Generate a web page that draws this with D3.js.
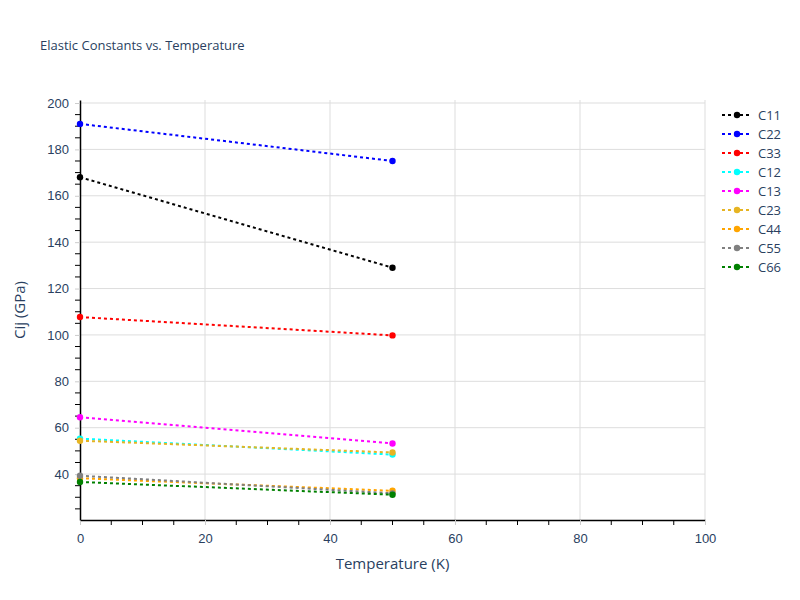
<!DOCTYPE html>
<html>
<head>
<meta charset="utf-8">
<script src="https://cdn.jsdelivr.net/npm/d3@7"></script>
<style>
body { margin: 0; background: #fff; }
svg { font-family: "Open Sans", verdana, arial, sans-serif; }
</style>
</head>
<body>
<svg id="chart" width="800" height="600"></svg>
<script>
const temperatures = [0, 50];
const seriesNames = ["C11", "C22", "C33", "C12", "C13", "C23", "C44", "C55", "C66"];
const seriesColors = ["#000000", "#0000ff", "#ff0000", "#00ffff", "#ff00ff", "#e6b422", "#ffa500", "#808080", "#008000"];
const C11 = [168, 129];
const C22 = [191, 175];
const C33 = [107.7, 99.8];
const C12 = [55.3, 48.4];
const C13 = [64.5, 53.2];
const C23 = [54.4, 49.3];
const C44 = [38.2, 32.8];
const C55 = [39.3, 31.7];
const C66 = [36.6, 31.1];
const seriesValues = [C11, C22, C33, C12, C13, C23, C44, C55, C66];
const xTicks = [0, 20, 40, 60, 80, 100];
const yTicks = [40, 60, 80, 100, 120, 140, 160, 180, 200];

(function () {
const svg = d3.select("#chart");
const mLeft = 80, mRight = 705, mTop = 100, mBottom = 520;
const x = d3.scaleLinear().domain([0, 100]).range([mLeft, mRight]);
const y = d3.scaleLinear().domain([20.2, 201.3]).range([mBottom, mTop]);
const textColor = "#2a3f5f";
const gridColor = "#dddddd";

// gridlines
svg.append("g").selectAll("line").data(xTicks.filter(d => d > 0)).join("line")
  .attr("x1", d => x(d)).attr("x2", d => x(d)).attr("y1", mTop).attr("y2", mBottom)
  .attr("stroke", gridColor).attr("stroke-width", 1);
svg.append("g").selectAll("line").data(yTicks).join("line")
  .attr("x1", mLeft).attr("x2", mRight).attr("y1", d => y(d)).attr("y2", d => y(d))
  .attr("stroke", gridColor).attr("stroke-width", 1);

// minor ticks
const xMinor = d3.range(5, 101, 5).filter(d => d % 20 !== 0);
const yMinor = d3.range(25, 201, 5).filter(d => d % 20 !== 0);
svg.append("g").selectAll("line").data(xMinor).join("line")
  .attr("x1", d => x(d)).attr("x2", d => x(d)).attr("y1", mBottom).attr("y2", mBottom + 5)
  .attr("stroke", "#000").attr("stroke-width", 1);
svg.append("g").selectAll("line").data(yMinor).join("line")
  .attr("x1", mLeft - 5).attr("x2", mLeft).attr("y1", d => y(d)).attr("y2", d => y(d))
  .attr("stroke", "#000").attr("stroke-width", 1);

// axes
const xAxis = d3.axisBottom(x).tickValues(xTicks).tickSize(5).tickSizeOuter(0).tickPadding(9);
const gx = svg.append("g").attr("transform", `translate(0,${mBottom})`).call(xAxis);
gx.select(".domain").attr("stroke", "#000").attr("stroke-width", 1.5);
gx.selectAll(".tick line").attr("stroke", "#cccccc");
gx.selectAll(".tick text").attr("fill", textColor).style("font-size", "13px");

const yAxis = d3.axisLeft(y).tickValues(yTicks).tickSize(5).tickSizeOuter(0).tickPadding(6);
const gy = svg.append("g").attr("transform", `translate(${mLeft},0)`).call(yAxis);
gy.select(".domain").attr("stroke", "#000").attr("stroke-width", 1.5);
gy.selectAll(".tick line").attr("stroke", "#cccccc");
gy.selectAll(".tick text").attr("fill", textColor).style("font-size", "13px");

// series
const line = d3.line().x((d, i) => x(temperatures[i])).y(d => y(d));
seriesValues.forEach((vals, k) => {
  svg.append("path").datum(vals).attr("d", line)
    .attr("fill", "none").attr("stroke", seriesColors[k]).attr("stroke-width", 2)
    .attr("stroke-dasharray", "3,3");
  svg.append("g").selectAll("circle").data(vals).join("circle")
    .attr("cx", (d, i) => x(temperatures[i])).attr("cy", d => y(d)).attr("r", 3.2)
    .attr("fill", seriesColors[k]);
});

// title
svg.append("text").attr("x", 40).attr("y", 50).text("Elastic Constants vs. Temperature")
  .attr("fill", textColor).style("font-size", "13px");

// axis titles
svg.append("text").attr("x", (mLeft + mRight) / 2).attr("y", 569).attr("text-anchor", "middle")
  .text("Temperature (K)").attr("fill", textColor).style("font-size", "15px");
svg.append("text").attr("transform", `translate(25,${(mTop + mBottom) / 2}) rotate(-90)`)
  .attr("text-anchor", "middle").text("Cij (GPa)").attr("fill", textColor).style("font-size", "15px");

// legend
const lg = svg.append("g");
seriesNames.forEach((name, k) => {
  const yy = 115 + k * 19;
  lg.append("line").attr("x1", 722).attr("x2", 752).attr("y1", yy).attr("y2", yy)
    .attr("stroke", seriesColors[k]).attr("stroke-width", 2).attr("stroke-dasharray", "3,3");
  lg.append("circle").attr("cx", 737).attr("cy", yy).attr("r", 3.2).attr("fill", seriesColors[k]);
  lg.append("text").attr("x", 758).attr("y", yy + 4.5).text(name)
    .attr("fill", textColor).style("font-size", "13px");
});
})();
</script>
</body>
</html>
